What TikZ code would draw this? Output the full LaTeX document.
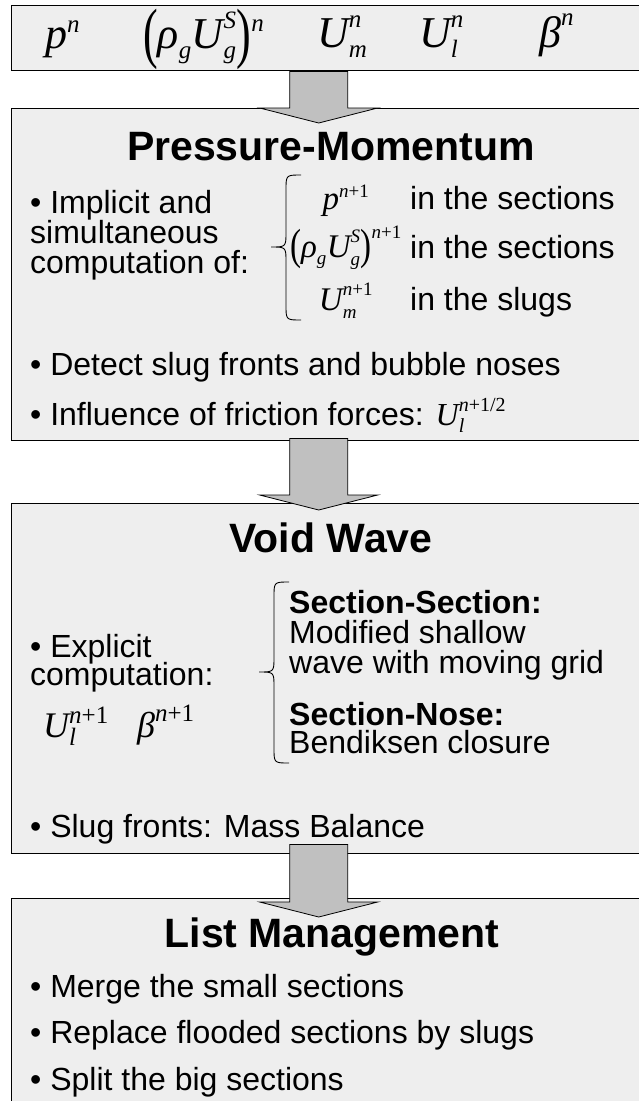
\RequirePackage{fix-cm}
\documentclass[tikz,border=0pt]{standalone}
\usepackage{amsmath}
\usepackage{fontspec}
\setmainfont{Liberation Sans}
\newfontfamily\tms{Liberation Serif}
\usetikzlibrary{calc}
\definecolor{panelgrey}{HTML}{EEEEEE}
\definecolor{arrowgrey}{HTML}{C0C0C0}
\DeclareMathSizes{44}{44}{25}{18}
\DeclareMathSizes{33}{33}{19}{14}
\DeclareMathSizes{36}{36}{25}{18}
\DeclareMathSizes{32}{32}{20}{15}
\newcommand{\mv}[1]{\text{\tms\itshape #1}}
\newcommand{\mn}[1]{\text{\tms #1}}
\newcommand{\tparen}[4]{\mn{\raisebox{#3}[#4]{\scalebox{1}[#2]{#1}}}}
\newcommand{\bodysize}{\fontsize{32}{30}\selectfont}
\newcommand{\leftbrace}[5]{% right x, tip x, top y, tip y, bottom y
  \draw[bracepath] (#1,#3) .. controls ({(#1+#2)/2},#3) .. ({(#1+#2)/2},#3+15)
    -- ({(#1+#2)/2},#4-15) .. controls ({(#1+#2)/2},#4) .. (#2,#4)
    .. controls ({(#1+#2)/2},#4) .. ({(#1+#2)/2},#4+15)
    -- ({(#1+#2)/2},#5-15) .. controls ({(#1+#2)/2},#5) .. (#1,#5);}
\tikzset{
  panel/.style={draw, line width=1.4pt, fill=panelgrey, inner sep=0pt,
    anchor=north west, minimum width=640pt},
  heading/.style={font=\fontsize{41}{44}\selectfont\bfseries, anchor=base, inner sep=0pt},
  item/.style={font=\bodysize, anchor=base west, inner sep=0pt},
  bolditem/.style={item, font=\bodysize\bfseries},
  statemath/.style={font=\fontsize{44}{46}\selectfont, anchor=base west, inner sep=0pt},
  rowmath/.style={font=\fontsize{33}{36}\selectfont, anchor=base, inner sep=0pt},
  voidmath/.style={font=\fontsize{36}{38}\selectfont, anchor=base west, inner sep=0pt},
  blockarrow/.style={draw, line width=0.8pt, fill=arrowgrey, line join=miter},
  bracepath/.style={line width=0.9pt}
}

\begin{document}
\begin{tikzpicture}[x=1pt, y=-1pt]
  \clip (0,0) rectangle (639,1101);
  \useasboundingbox (0,0) rectangle (639,1101);

  % the four panels
  \node[panel, minimum height=65pt] (state) at (11,5) {};
  \node[panel, minimum height=332pt] (press) at (11,108) {};
  \node[panel, minimum height=350pt] (void) at (11,503) {};
  \node[panel, minimum height=240pt] (list) at (11,898) {};

  % variables at time n
  \node[statemath] (pn) at (45,48) {$\mv{p}^{\mv{n}}$};
  \node[statemath] (gn) at (143,48)
    {$\tparen{(}{1.52}{-7pt}{26pt}\mv{ρ}_{\mv{g}}\mv{U}_{\mv{g}}^{\mv{S}}\tparen{)}{1.52}{-7pt}{26pt}^{\mv{n}}$};
  \node[statemath] (umn) at (317,47) {$\mv{U}_{\mv{m}}^{\mv{n}}$};
  \node[statemath] (uln) at (419,47) {$\mv{U}_{\mv{l}}^{\mv{n}}$};
  \node[statemath] (bn) at (539,47) {$\mv{β}^{\mv{n}}$};

  % pressure-momentum step
  \node[heading] (presstitle) at (331,160) {Pressure-Momentum};
  \foreach \txt/\yy [count=\i] in {• Implicit and/213, simultaneous/243,
                                   computation of:/273}{%
    \node[item] (impl\i) at (30,\yy) {\txt};}
  \leftbrace{301}{271}{175}{247}{320}
  \node[rowmath] (rowp) at (346,209) {$\mv{p}^{\mv{n}\mn{+1}}$};
  \node[rowmath] (rowg) at (346,257)
    {$\tparen{(}{1.32}{-2.5pt}{26pt}\mv{ρ}_{\mv{g}}\mv{U}_{\mv{g}}^{\mv{S}}\tparen{)}{1.32}{-2.5pt}{26pt}^{\mv{n}\mn{+1}}$};
  \node[rowmath] (rowu) at (346,310) {$\mv{U}_{\mv{m}}^{\mv{n}\mn{+1}}$};
  \foreach \txt/\yy [count=\i] in {in the sections/209, in the sections/258,
                                   in the slugs/310}{%
    \node[item] (where\i) at (410,\yy) {\txt};}
  \node[item] (detect) at (30,375) {• Detect slug fronts and bubble noses};
  \node[item] (friction) at (30,425)
    {• Influence of friction forces: $\mv{U}_{\mv{l}}^{\mv{n}\mn{+1/2}}$};

  % void wave step
  \node[heading] (voidtitle) at (331,552) {Void Wave};
  \node[item] (expl1) at (30,657) {• Explicit};
  \node[item] (expl2) at (30,685) {computation:};
  \node[voidmath] (uln1) at (43,737) {$\mv{U}_{\mv{l}}^{\mv{n}\mn{+1}}$};
  \node[voidmath] (bn1) at (137,737) {$\mv{β}^{\mv{n}\mn{+1}}$};
  \leftbrace{289}{259}{582}{672}{763}
  \node[bolditem] (secsec) at (289,613) {Section-Section:};
  \node[item] (shallow1) at (289,643) {Modified shallow};
  \node[item] (shallow2) at (289,673) {wave with moving grid};
  \node[bolditem] (secnose) at (289,725) {Section-Nose:};
  \node[item] (bendiksen) at (289,753) {Bendiksen closure};
  \node[item] (balance) at (30,837) {• Slug fronts: Mass Balance};

  % list management step
  \node[heading] (listtitle) at (332,947) {List Management};
  \foreach \txt/\yy [count=\i] in {• Merge the small sections/997,
      • Replace flooded sections by slugs/1043, • Split the big sections/1090}{%
    \node[item] (task\i) at (30,\yy) {\txt};}

  % block arrows between the panels
  \foreach \src/\dst/\sy/\hy in {state/press/0/0, press/void/-3/-8, void/list/-10/4}{%
    \coordinate (shafttop) at ($(\src.south)+(-13,\sy)$);
    \coordinate (headbase) at ($(\dst.north)+(-13,\hy)$);
    \draw[blockarrow] ($(shafttop)+(-29,0)$) -- ($(headbase)+(-29,0)$)
      -- ($(headbase)+(-59,0)$) -- ($(headbase)+(0,15)$)
      -- ($(headbase)+(59,0)$) -- ($(headbase)+(29,0)$)
      -- ($(shafttop)+(29,0)$) -- cycle;}
\end{tikzpicture}
\end{document}
